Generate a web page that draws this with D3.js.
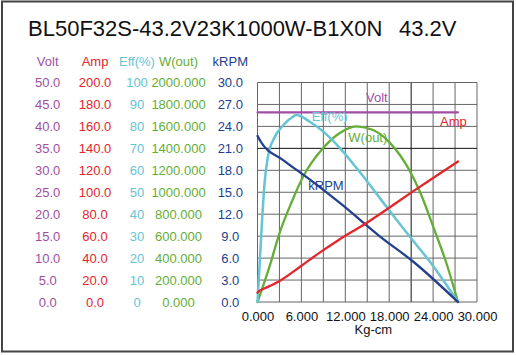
<!DOCTYPE html>
<html><head><meta charset="utf-8">
<script src="https://cdn.jsdelivr.net/npm/d3@7"></script>
<style>
html,body{margin:0;padding:0;background:#fff;}
svg{display:block;font-family:"Liberation Sans",Arial,sans-serif;}
</style></head>
<body><svg id="c" width="516" height="355"></svg>
<script>
// ---- data ----
const titleMain = "BL50F32S-43.2V23K1000W-B1X0N";
const titleVolt = "43.2V";
const xTicks = [0, 6, 12, 18, 24, 30];
const voltTicks = [0, 5, 10, 15, 20, 25, 30, 35, 40, 45, 50];
const ampTicks = [0, 20, 40, 60, 80, 100, 120, 140, 160, 180, 200];
const effTicks = [0, 10, 20, 30, 40, 50, 60, 70, 80, 90, 100];
const wTicks = [0, 200, 400, 600, 800, 1000, 1200, 1400, 1600, 1800, 2000];
const rpmTicks = [0, 3, 6, 9, 12, 15, 18, 21, 24, 27, 30];

const voltT = [0, 27.4];
const voltV = [43.2, 43.2];
const ampT = [0, 0.3, 1.0, 3.08, 6.0, 8.5, 11.2, 14.9, 17.8, 21.3, 24.0, 27.4];
const ampV = [8.5, 10.3, 12.5, 19.4, 33, 45, 57, 72, 85, 101, 113, 128];
const effT = [0, 0.27, 0.64, 0.96, 1.41, 2.33, 3.47, 4.84, 5.3, 7.2, 9.0, 11.3, 13.6, 16.0, 18.1, 20.8, 23.6, 27.4];
const effV = [0, 16, 38, 54, 66, 75, 80.4, 84.4, 85.2, 82, 77.6, 70, 60.8, 50.5, 41.3, 29.8, 18.2, 0];
const wT = [0, 1.64, 3.0, 4.6, 6.3, 8.95, 11.2, 13.5, 15.8, 18.1, 20.6, 22.2, 24.1, 25.9, 27.4];
const wV = [0, 322, 626, 900, 1150, 1400, 1537, 1600, 1567, 1450, 1220, 1005, 671, 337, 0];
const rpmT = [0, 0.45, 3.5, 6.67, 11.3, 16.8, 21.3, 27.4];
const rpmV = [22.7, 21.9, 19.4, 17.1, 13.5, 8.9, 5.5, 0];

// ---- layout ----
const C = {volt:"#9e4fa3", amp:"#e3262b", eff:"#66c4d4", w:"#64ae35", rpm:"#233f8e"};
const L = 257.5, R = 477, T = 82.5, B = 302;
const svg = d3.select("#c");
svg.append("rect").attr("x",2).attr("y",1.5).attr("width",511).attr("height",350)
   .attr("fill","#fff").attr("stroke","#444").attr("stroke-width",2);

const x = d3.scaleLinear().domain([0,30]).range([L,R]);
const yV = d3.scaleLinear().domain([0,50]).range([B,T]);
const yA = d3.scaleLinear().domain([0,200]).range([B,T]);
const yE = d3.scaleLinear().domain([0,100]).range([B,T]);
const yW = d3.scaleLinear().domain([0,2000]).range([B,T]);
const yR = d3.scaleLinear().domain([0,30]).range([B,T]);

// title
const tt = svg.append("text").attr("y",35.7).attr("font-size",22).attr("fill","#111");
tt.append("tspan").attr("x",28).text(titleMain);
tt.append("tspan").attr("x",399).text(titleVolt);

// grid
const g = svg.append("g");
d3.range(0,30.01,3).forEach(v=>{
  g.append("line").attr("x1",x(v)).attr("x2",x(v)).attr("y1",T).attr("y2",B)
   .attr("stroke", v===21 ? "#111" : "#666").attr("stroke-width",1);
});
voltTicks.forEach(v=>{
  g.append("line").attr("x1",L).attr("x2",R).attr("y1",yV(v)).attr("y2",yV(v))
   .attr("stroke", v===35 ? "#111" : "#666").attr("stroke-width",1);
});

// left axes (centered labels)
function colAxis(scale, ticks, fmt, cx, color, header){
  const ax = d3.axisLeft(scale).tickValues(ticks).tickFormat(fmt).tickSize(0);
  const ga = svg.append("g").attr("transform",`translate(${cx},0)`).call(ax);
  ga.select(".domain").remove();
  ga.selectAll("text").attr("x",0).attr("text-anchor","middle")
    .attr("fill",color).attr("font-size",13).attr("font-family","Liberation Sans, Arial, sans-serif");
  svg.append("text").attr("x",cx).attr("y",65.7).attr("text-anchor","middle")
    .attr("font-size",13).attr("fill",color).text(header);
}
colAxis(yV, voltTicks, d3.format(".1f"), 47.7, C.volt, "Volt");
colAxis(yA, ampTicks, d3.format(".1f"), 95, C.amp, "Amp");
colAxis(yE, effTicks, d3.format("d"), 137, C.eff, "Eff(%)");
colAxis(yW, wTicks, d3.format(".3f"), 178.5, C.w, "W(out)");
colAxis(yR, rpmTicks, d3.format(".1f"), 230.3, C.rpm, "kRPM");

// x axis
const xa = svg.append("g").attr("transform",`translate(0,${B})`)
  .call(d3.axisBottom(x).tickValues(xTicks).tickFormat(d3.format(".3f")).tickSize(0).tickPadding(10));
xa.select(".domain").remove();
xa.selectAll("text").attr("fill","#111").attr("font-size",13).attr("font-family","Liberation Sans, Arial, sans-serif");
svg.append("text").attr("x",373.3).attr("y",334).attr("text-anchor","middle")
  .attr("font-size",13).attr("fill","#111").text("Kg-cm");

// curves
function curve(ts, vs, ys, color, w){
  const pts = ts.map((t,i)=>[t, vs[i]]);
  svg.append("path").datum(pts)
    .attr("d", d3.line().x(d=>x(d[0])).y(d=>ys(d[1])).curve(d3.curveMonotoneX))
    .attr("fill","none").attr("stroke",color).attr("stroke-width",w)
    .attr("stroke-linejoin","round").attr("stroke-linecap","round");
}
curve(voltT, voltV, yV, C.volt, 2.2);
curve(wT, wV, yW, C.w, 2.3);
curve(effT, effV, yE, C.eff, 2.5);
curve(rpmT, rpmV, yR, C.rpm, 2.3);
curve(ampT, ampV, yA, C.amp, 2.3);

// in-plot labels
const lab = [
  {t:"Volt", x:366, y:102, c:C.volt},
  {t:"Eff(%)", x:311.7, y:121.3, c:C.eff},
  {t:"Amp", x:440, y:125.5, c:C.amp},
  {t:"W(out)", x:348.3, y:142, c:C.w},
  {t:"kRPM", x:308.3, y:189.5, c:C.rpm}
];
lab.forEach(d=>svg.append("text").attr("x",d.x).attr("y",d.y).attr("font-size",13)
  .attr("fill",d.c).text(d.t));
</script></body></html>
